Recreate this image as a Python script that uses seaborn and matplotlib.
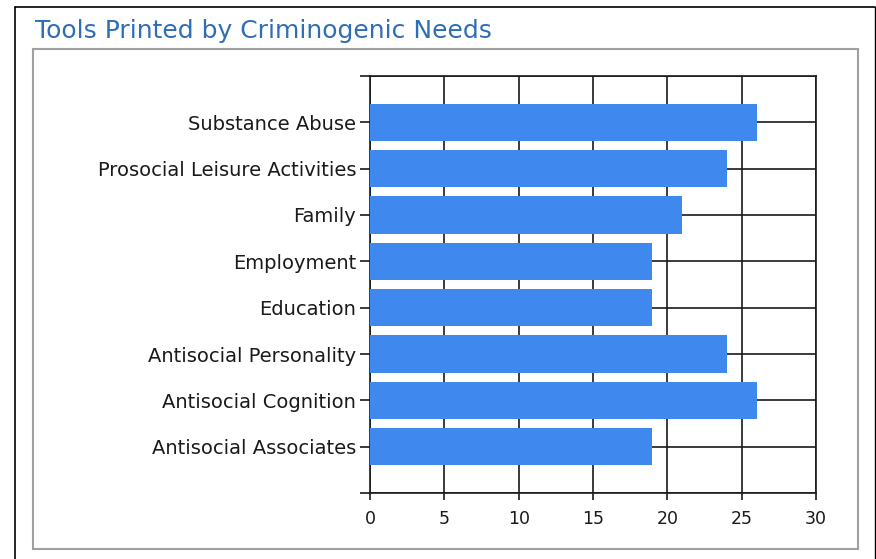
import matplotlib
matplotlib.use("Agg")
import matplotlib.pyplot as plt
import seaborn as sns
import pandas as pd
from matplotlib.patches import Rectangle
from matplotlib.lines import Line2D

categories = [
    "Substance Abuse",
    "Prosocial Leisure Activities",
    "Family",
    "Employment",
    "Education",
    "Antisocial Personality",
    "Antisocial Cognition",
    "Antisocial Associates",
]
tools_printed = [26, 24, 21, 19, 19, 24, 26, 19]
x_ticks = [0, 5, 10, 15, 20, 25, 30]

df = pd.DataFrame({"need": categories, "count": tools_printed})

sns.set_style("white")
plt.rcParams["font.family"] = ["DejaVu Sans"]

W, H = 876, 559
fig = plt.figure(figsize=(W / 100, H / 100), dpi=100)

# outer frame (black) and inner panel (gray)
fig.add_artist(Line2D([15 / W, 15 / W], [0, 1 - 7 / H], color="black", lw=1.2))
fig.add_artist(Line2D([15 / W, 875 / W], [1 - 7 / H, 1 - 7 / H], color="black", lw=1.2))
fig.add_artist(Line2D([875 / W, 875 / W], [0, 1 - 7 / H], color="black", lw=1.0))
fig.add_artist(Rectangle((33 / W, 1 - 549 / H), (858 - 33) / W, (549 - 49) / H,
                         transform=fig.transFigure, fill=False,
                         edgecolor="#a0a0a0", lw=1.5))

fig.text(35 / W, 1 - 31 / H, "Tools Printed by Criminogenic Needs",
         fontsize=18, color="#2f6db5", va="center", ha="left")

ax = fig.add_axes([370 / W, 1 - 493 / H, (816 - 370) / W, (493 - 76) / H])
sns.barplot(data=df, x="count", y="need", color="#3f88ee", saturation=1,
            width=0.8, linewidth=0, ax=ax, zorder=3)

ax.set_xlim(0, 30)
ax.set_ylim(len(categories), -1)
ax.set_xticks(x_ticks)
ax.set_xticklabels([str(t) for t in x_ticks])
ax.set_yticks(range(-1, len(categories) + 1))
ax.set_yticklabels([""] + categories + [""])
ax.set_xlabel("")
ax.set_ylabel("")

ax.grid(True, axis="both", color="#1a1a1a", lw=1.2, zorder=1)
for s in ax.spines.values():
    s.set_visible(True)
    s.set_color("#1a1a1a")
    s.set_linewidth(1.2)
ax.tick_params(axis="y", left=True, length=7, width=1.2, color="#1a1a1a",
               labelsize=14, labelcolor="#1a1a1a", pad=3)
ax.tick_params(axis="x", bottom=True, length=5, width=1.2, color="#1a1a1a",
               labelsize=12.5, labelcolor="#1a1a1a", pad=7)

fig.savefig("out.png", dpi=100)
